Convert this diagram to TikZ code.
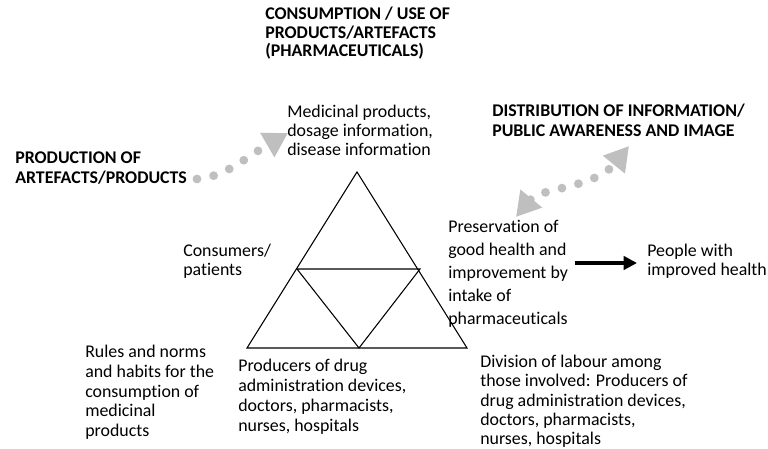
\documentclass[tikz,border=0pt]{standalone}
\usepackage{fontspec}
\setmainfont{Carlito}[Ligatures=CommonOff]
\usetikzlibrary{arrows.meta}
\begin{document}
\begin{tikzpicture}[x=0.75pt,y=-0.75pt,
  lbl/.style={anchor=north west,inner sep=0pt,align=left,font=\fontsize{13.4pt}{#1}\selectfont},
  lbl/.default=14.5pt,
  caps/.style={lbl=#1,font=\fontsize{13.4pt}{#1}\selectfont\bfseries},
  caps/.default=14pt,
  dotline/.style={dotgrey,line width=6.6pt,line cap=round,dash pattern=on 0pt off 12.75pt}]
  \definecolor{dotgrey}{HTML}{BFBFBF}
  \useasboundingbox (0,0) rectangle (768,449);
  % triangle
  \coordinate (apex) at (357,172);
  \coordinate (bl) at (247,348);
  \coordinate (br) at (467,348);
  \coordinate (ml) at (297,269);
  \coordinate (mr) at (420,269);
  \coordinate (mb) at (359,348);
  \draw [line width=0.8pt] (apex) -- (bl) -- (br) -- cycle;
  \draw [line width=0.8pt] (ml) -- (mr) -- (mb) -- cycle;
  % texts
  \node [caps=13.75pt] (cons) at (265,7) {CONSUMPTION / USE OF\\PRODUCTS/ARTEFACTS\\(PHARMACEUTICALS)};
  \node [lbl=14.25pt] (med) at (287,105) {Medicinal products,\\dosage information,\\disease information};
  \node [caps=15pt] (prod) at (15,152) {PRODUCTION OF\\ARTEFACTS/PRODUCTS};
  \node [caps=15pt] (dist) at (492,104) {DISTRIBUTION OF INFORMATION/\\PUBLIC AWARENESS AND IMAGE};
  \node [lbl=13.75pt] (cust) at (183,244) {Consumers/\\patients};
  \node [lbl=17.25pt] (pres) at (448,220) {Preservation of\\good health and\\improvement by\\intake of\\pharmaceuticals};
  \node [lbl=13.75pt] (ppl) at (647,244) {People with\\improved health};
  \node [lbl=15pt] (prods) at (238,359) {Producers of drug\\administration devices,\\doctors, pharmacists,\\nurses, hospitals};
  \node [lbl=14.8pt] (rules) at (85,345) {Rules and norms\\and habits for the\\consumption of\\medicinal\\products};
  \node [lbl=14.4pt] (div) at (480,355) {Division of labour among\\those involved: Producers of\\drug administration devices,\\doctors, pharmacists,\\nurses, hospitals};
  % arrows
  \coordinate (lt) at (197,179);
  \coordinate (lh) at (288,133);
  \coordinate (rt) at (516,217);
  \coordinate (rh) at (629,146);
  \coordinate (ba) at (575,263);
  \coordinate (bb) at (637,263);
  \draw [dotline,-{Triangle[length=18pt,width=20pt]}] (lt) .. controls (225,177) and (245,158) .. (lh);
  \draw [dotline,{Triangle[length=18pt,width=20pt]}-{Triangle[length=18pt,width=20pt]}] (rt) .. controls (540,188) and (595,188) .. (rh);
  \draw [line width=3.5pt,-{Triangle[length=10pt,width=10pt]}] (ba) -- (bb);
\end{tikzpicture}
\end{document}
